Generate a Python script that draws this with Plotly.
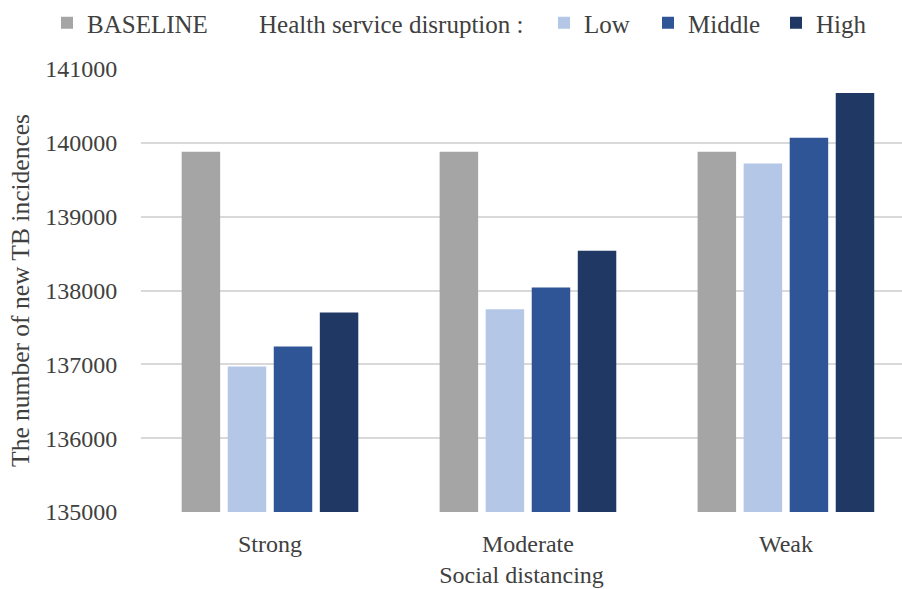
import plotly.graph_objects as go

categories = ["Strong", "Moderate", "Weak"]
baseline = [139880, 139880, 139880]
low = [136970, 137745, 139720]
middle = [137242, 138042, 140070]
high = [137702, 138540, 140676]

series_names = ["BASELINE", "Low", "Middle", "High"]
colors = ["#A5A5A5", "#B4C7E7", "#2F5597", "#203864"]
legend_label = "Health service disruption :"

y_ticks = [135000, 136000, 137000, 138000, 139000, 140000, 141000]

FONT = "Liberation Serif"
TXT = "#404040"
W = 902

fig = go.Figure()
fig.add_trace(go.Bar(name=series_names[0], x=categories, y=baseline, legend="legend",
                     marker=dict(color=colors[0], line=dict(width=0))))
# legend-only text entry
fig.add_trace(go.Scatter(name=legend_label, x=[None], y=[None], mode="markers",
                         marker=dict(color="rgba(0,0,0,0)", size=1),
                         legend="legend2", showlegend=True, hoverinfo="skip"))
for name, vals, col, lg in zip(series_names[1:], [low, middle, high], colors[1:],
                               ["legend3", "legend4", "legend5"]):
    fig.add_trace(go.Bar(name=name, x=categories, y=vals, legend=lg,
                         marker=dict(color=col, line=dict(width=0))))

def leg(xpx):
    return dict(orientation="h", x=xpx / W, xanchor="left", xref="container",
                y=1.0, yanchor="top", yref="container",
                font=dict(size=25, color=TXT, family=FONT), itemwidth=30,
                bgcolor="rgba(0,0,0,0)")

fig.update_layout(
    width=902, height=589,
    margin=dict(l=141, r=0, t=69, b=77),
    paper_bgcolor="white", plot_bgcolor="white",
    barmode="group", bargap=0.286, bargroupgap=0.164,
    font=dict(family=FONT, color=TXT, size=24),
    showlegend=True,
    legend=leg(47), legend2=leg(219), legend3=leg(544), legend4=leg(648), legend5=leg(776),
)

fig.update_xaxes(
    type="category", categoryorder="array", categoryarray=categories,
    range=[-0.5, 2.45], showgrid=False, showline=False, zeroline=False,
    ticks="outside", ticklen=10, tickcolor="rgba(0,0,0,0)",
    tickfont=dict(size=24, color=TXT),
    title=dict(text="Social distancing", font=dict(size=24, color=TXT), standoff=10),
)
fig.update_yaxes(
    range=[135000, 141000], tickvals=y_ticks, ticktext=[str(v) for v in y_ticks],
    showgrid=True, gridcolor="#D9D9D9", gridwidth=1.5,
    zeroline=False, showline=False,
    ticks="outside", ticklen=18, tickcolor="rgba(0,0,0,0)",
    tickfont=dict(size=24, color=TXT),
    title=dict(text="The number of new TB incidences", font=dict(size=25.5, color=TXT), standoff=8),
)

fig.write_html("out.html")
